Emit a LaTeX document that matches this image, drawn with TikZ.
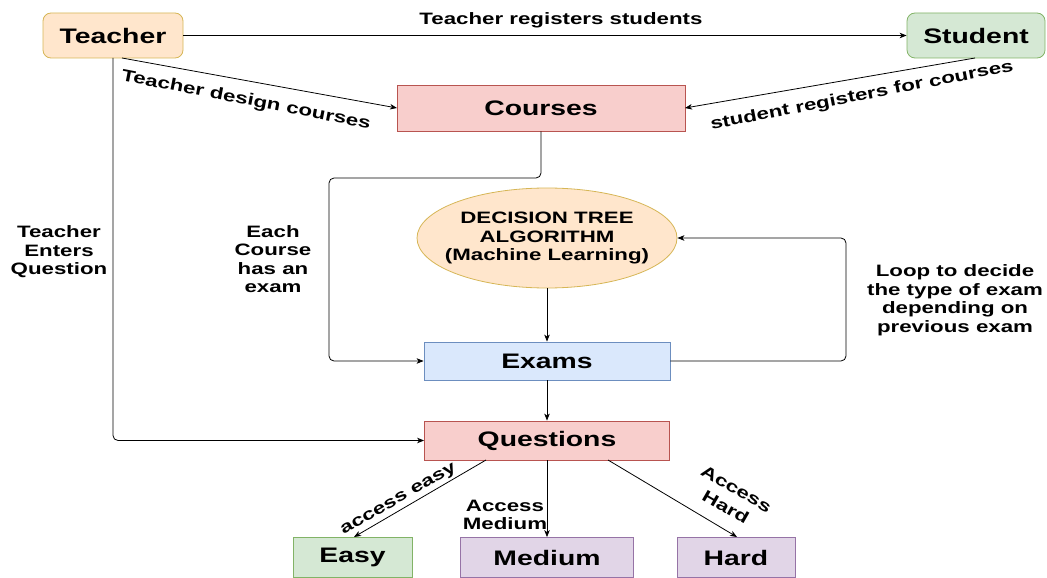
\documentclass[tikz,border=0pt]{standalone}
\usepackage{fontspec}
\setmainfont{Liberation Sans}[FakeStretch=1.35]
\usetikzlibrary{arrows.meta,shapes.geometric}
\definecolor{orF}{HTML}{FFE6CC}\definecolor{orD}{HTML}{D6B656}
\definecolor{grF}{HTML}{D5E8D4}\definecolor{grD}{HTML}{82B366}
\definecolor{rdF}{HTML}{F8CECC}\definecolor{rdD}{HTML}{B85450}
\definecolor{blF}{HTML}{DAE8FC}\definecolor{blD}{HTML}{6C8EBF}
\definecolor{puF}{HTML}{E1D5E7}\definecolor{puD}{HTML}{9673A6}
\tikzset{
  box/.style={draw, line width=0.8pt, inner sep=0pt, align=center,
    font=\fontsize{21}{24}\selectfont\bfseries},
  lbl/.style={inner sep=0pt, align=center,
    font=\fontsize{16.5}{18.5}\selectfont\bfseries},
  conn/.style={line width=0.8pt, -{Stealth[length=7pt,width=5.5pt,inset=2pt]}},
}
\begin{document}
\begin{tikzpicture}[x=1pt,y=-1pt]
\useasboundingbox (0,0) rectangle (1047,578);
\clip (0,0) rectangle (1047,578);
% nodes
\node[box, fill=orF, draw=orD, rounded corners=8pt, minimum width=140pt, minimum height=45pt] (teacher) at (113,35.5) {Teacher};
\node[box, fill=grF, draw=grD, rounded corners=8pt, minimum width=138pt, minimum height=45pt] (student) at (976,35.5) {Student};
\node[box, fill=rdF, draw=rdD, minimum width=288pt, minimum height=46pt] (courses) at (541,108) {Courses};
\node[ellipse, draw=orD, fill=orF, line width=0.8pt, inner sep=0pt, minimum width=260pt, minimum height=100pt] (dt) at (547,238) {};
\node[lbl] (dttext) at (dt.center) {DECISION TREE\\ALGORITHM\\(Machine Learning)};
\node[box, fill=blF, draw=blD, minimum width=246pt, minimum height=38pt] (exams) at (547,361) {Exams};
\node[box, fill=rdF, draw=rdD, minimum width=245pt, minimum height=39pt] (questions) at (547,440.5) {Questions};
\node[box, fill=grF, draw=grD, minimum width=119pt, minimum height=40pt] (easy) at (352.5,557.5) {Easy};
\node[box, fill=puF, draw=puD, minimum width=173pt, minimum height=40pt] (medium) at (547,557.5) {Medium};
\node[box, fill=puF, draw=puD, minimum width=118pt, minimum height=40pt] (hard) at (736,557.5) {Hard};
% helper coordinates
\coordinate (tS) at (122,58);
\coordinate (sS) at (975,58);
\coordinate (cR) at (685,108);
\coordinate (cL) at (397,108);
% connectors
\draw[conn] (teacher.east) -- (student.west);
\draw[conn] (tS) -- (cL);
\draw[conn] (sS) -- (cR);
\draw[conn, rounded corners=5pt] (courses.south) -- (541,178) -- (329,178) -- (329,361) -- (exams.west);
\draw[conn, rounded corners=5pt] (113,58) -- (113,440.5) -- (questions.west);
\draw[conn] (dt.south) -- (exams.north);
\draw[conn, rounded corners=5pt] (exams.east) -- (846,361) -- (846,238) -- (dt.east);
\draw[conn] (exams.south) -- (questions.north);
\coordinate (qE) at (486,460);
\coordinate (eT) at (354,537);
\coordinate (qH) at (608,460);
\coordinate (hT) at (737,537);
\draw[conn] (qE) -- (eT);
\draw[conn] (questions.south) -- (medium.north);
\draw[conn] (qH) -- (hT);
% labels
\node[lbl] (l1) at (561,20) {Teacher registers students};
\node[lbl, rotate=-11] (l2) at (246,100.5) {Teacher design courses};
\node[lbl, rotate=11] (l3) at (862,96) {student registers for courses};
\node[lbl] (l4) at (59,252) {Teacher\\Enters\\Question};
\node[lbl] (l5) at (273,259) {Each\\Course\\has an\\exam};
\node[lbl] (l6) at (955,300) {Loop to decide\\the type of exam\\depending on\\previous exam};
\node[lbl, rotate=29.5] (l7) at (399,500) {access easy};
\node[lbl] (l8) at (505,515) {Access\\Medium};
\node[lbl, rotate=-30, font=\fontsize{16.5}{21}\selectfont\bfseries] (l9) at (731,498) {Access\\Hard};
\end{tikzpicture}
\end{document}
